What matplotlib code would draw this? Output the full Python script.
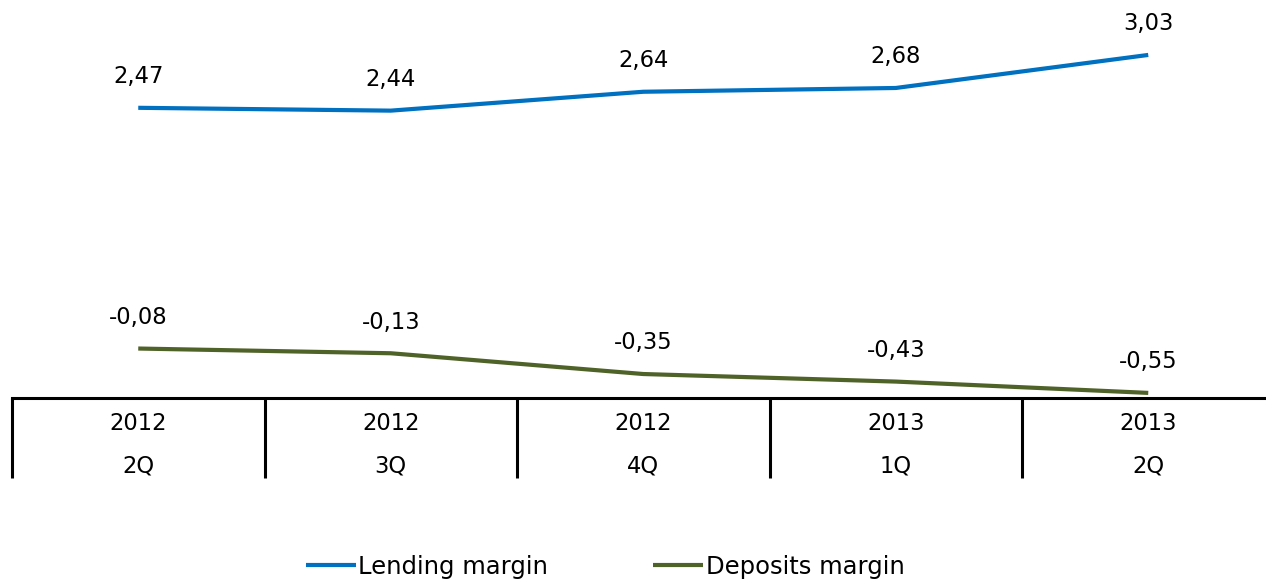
import matplotlib
matplotlib.use('Agg')
import matplotlib.pyplot as plt
import numpy as np

years = ['2012', '2012', '2012', '2013', '2013']
quarters = ['2Q', '3Q', '4Q', '1Q', '2Q']
lending = [2.47, 2.44, 2.64, 2.68, 3.03]
deposits = [-0.08, -0.13, -0.35, -0.43, -0.55]

BLUE = '#0070C0'
GREEN = '#4F6228'
FS = 16.3

W, H = 1266, 580
fig = plt.figure(figsize=(W / 100.0, H / 100.0), dpi=100)
# axes run off the right edge a little so the last category is cut like a table
ax = fig.add_axes([12.0 / W, 1 - 398.0 / H, 1262.5 / W, 398.0 / H])
ax.set_xlim(-0.5, len(years) - 0.5)
ax.set_ylim(-0.604, 3.612)

x = np.arange(len(years))
l1, = ax.plot(x, lending, color=BLUE, lw=3.0, solid_capstyle='butt')
l2, = ax.plot(x, deposits, color=GREEN, lw=3.0, solid_capstyle='butt')

def fmt(v):
    return ('%.2f' % v).replace('.', ',')

for xi, v in zip(x, lending):
    ax.annotate(fmt(v), (xi, v), xytext=(0, 22.5), textcoords='offset points',
                ha='center', va='center', fontsize=FS)
for xi, v in zip(x, deposits):
    ax.annotate(fmt(v), (xi, v), xytext=(0, 22.5), textcoords='offset points',
                ha='center', va='center', fontsize=FS)

# bottom axis with table-like category cells
for s in ['top', 'right', 'left']:
    ax.spines[s].set_visible(False)
ax.spines['bottom'].set_linewidth(2.2)
ax.set_xticks([])
ax.set_yticks([])

trans = ax.get_xaxis_transform()
for i in range(len(years)):
    ax.plot([i - 0.5, i - 0.5], [0, -80.0 / 398], transform=trans,
            color='black', lw=2.2, clip_on=False, solid_capstyle='butt')
    ax.text(i, -26.0 / 398, years[i], transform=trans, ha='center',
            va='center', fontsize=FS)
    ax.text(i, -68.0 / 398, quarters[i], transform=trans, ha='center',
            va='center', fontsize=FS)

fig.legend([l1, l2], ['Lending margin', 'Deposits margin'], ncol=2,
           loc='center', bbox_to_anchor=(605.0 / W, 1 - 567.0 / H),
           frameon=False, fontsize=17.5, handlelength=2.05, handletextpad=0.12,
           columnspacing=4.3, borderpad=0)

plt.savefig('out.png', dpi=100)
